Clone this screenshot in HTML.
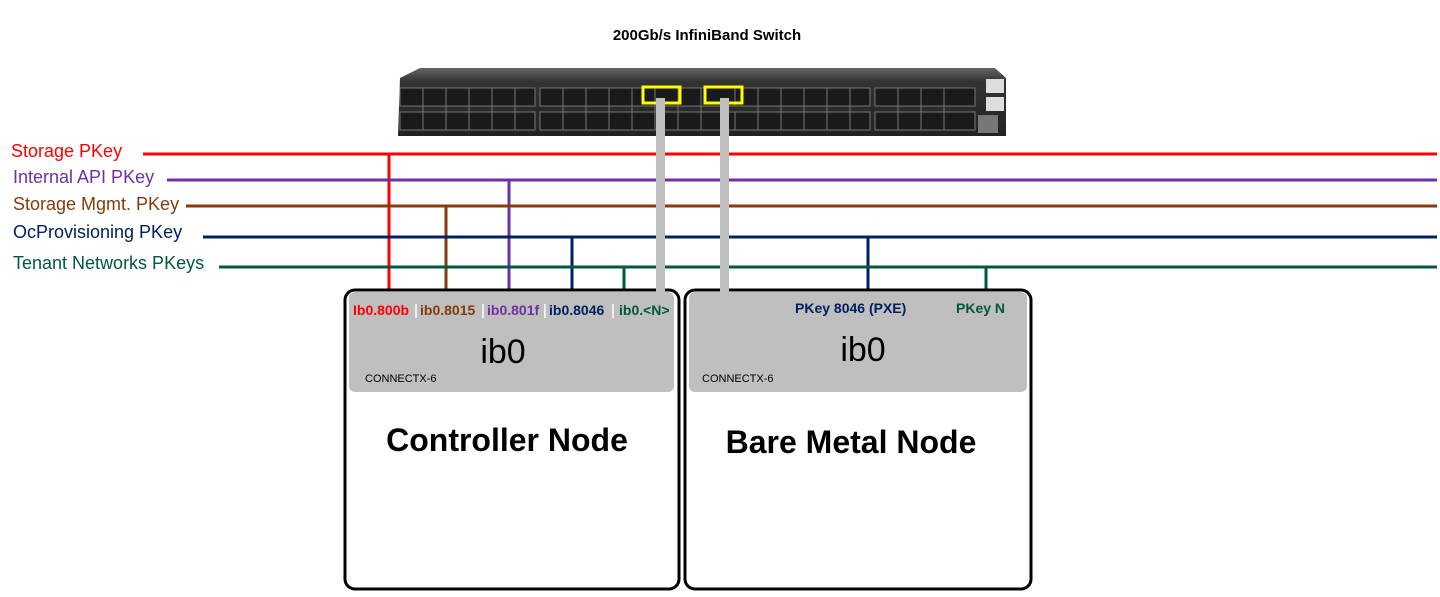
<!DOCTYPE html>
<html><head><meta charset="utf-8"><style>
body{margin:0;width:1440px;height:592px;background:#fff;overflow:hidden;font-family:"Liberation Sans",sans-serif}
</style></head><body>
<svg width="1440" height="592" xmlns="http://www.w3.org/2000/svg" font-family="Liberation Sans, sans-serif">
<text x="707" y="40" font-size="15" font-weight="bold" text-anchor="middle">200Gb/s InfiniBand Switch</text>
<defs><linearGradient id="g" x1="0" y1="0" x2="0" y2="1"><stop offset="0" stop-color="#666"/><stop offset="0.2" stop-color="#333"/><stop offset="1" stop-color="#222"/></linearGradient></defs>
<path d="M400 78 L420 68 L995 68 L1006 78 L1006 136 L398 136 Z" fill="url(#g)"/>
<g fill="#1a1a1a" stroke="#777" stroke-width="1">
<rect x="400" y="88" width="135" height="18"/><rect x="400" y="112" width="135" height="18"/>
<rect x="540" y="88" width="195" height="18"/><rect x="540" y="112" width="195" height="18"/>
<rect x="735" y="88" width="135" height="18"/><rect x="735" y="112" width="135" height="18"/>
<rect x="875" y="88" width="100" height="18"/><rect x="875" y="112" width="100" height="18"/>
</g>
<g stroke="#777" stroke-width="1">
<path d="M423 88v42M446 88v42M469 88v42M492 88v42M515 88v42M563 88v42M586 88v42M609 88v42M632 88v42M655 88v42M678 88v42M701 88v42M758 88v42M781 88v42M804 88v42M827 88v42M850 88v42M898 88v42M921 88v42M944 88v42"/>
</g>
<rect x="986" y="79" width="18" height="14" fill="#ddd"/><rect x="986" y="97" width="18" height="14" fill="#ddd"/>
<rect x="978" y="115" width="20" height="18" fill="#777"/>
<rect x="643" y="87" width="37" height="16" fill="none" stroke="#ffff00" stroke-width="3"/>
<rect x="705" y="87" width="37" height="16" fill="none" stroke="#ffff00" stroke-width="3"/>
<g font-size="18">
<text x="11" y="157" fill="#ff0000">Storage PKey</text>
<text x="13" y="183" fill="#7030a0">Internal API PKey</text>
<text x="13" y="210" fill="#843c0c">Storage Mgmt. PKey</text>
<text x="13" y="238" fill="#002060">OcProvisioning PKey</text>
<text x="13" y="269" fill="#00573f">Tenant Networks PKeys</text>
</g>
<g stroke-width="3" fill="none">
<path d="M143 154H1437M389 154V290" stroke="#ff0000"/>
<path d="M167 180H1437M509 180V290" stroke="#7030a0"/>
<path d="M186 206H1437M446 206V290" stroke="#843c0c"/>
<path d="M203 237H1437M572 237V290M868 237V290" stroke="#002060"/>
<path d="M219 267H1437M624 267V290M986 267V290" stroke="#00573f"/>
</g>
<rect x="656" y="98" width="9" height="194" fill="#bfbfbf"/>
<rect x="720" y="98" width="9" height="194" fill="#bfbfbf"/>
<rect x="345" y="290" width="334" height="299" rx="10" fill="#fff" stroke="#000" stroke-width="3"/>
<rect x="685" y="290" width="346" height="299" rx="10" fill="#fff" stroke="#000" stroke-width="3"/>
<rect x="349" y="292" width="325" height="100" rx="6" fill="#bfbfbf"/>
<rect x="689" y="292" width="338" height="100" rx="6" fill="#bfbfbf"/>
<rect x="656" y="288" width="9" height="5" fill="#bfbfbf"/><rect x="720" y="288" width="9" height="5" fill="#bfbfbf"/>
<g font-size="14" font-weight="bold">
<text x="353" y="315" fill="#ff0000">Ib0.800b</text>
<text x="420" y="315" fill="#843c0c">ib0.8015</text>
<text x="487" y="315" fill="#7030a0">ib0.801f</text>
<text x="549" y="315" fill="#002060">ib0.8046</text>
<text x="619" y="315" fill="#00573f">ib0.&lt;N&gt;</text>
<text x="795" y="313" fill="#002060">PKey 8046 (PXE)</text>
<text x="956" y="313" fill="#00573f">PKey N</text>
</g>
<g stroke="#fff" stroke-width="1.5"><path d="M416 304v14M483 304v14M545 304v14M613 304v14"/></g>
<text x="503" y="363" font-size="34" text-anchor="middle">ib0</text>
<text x="863" y="361" font-size="34" text-anchor="middle">ib0</text>
<text x="365" y="382" font-size="11">CONNECTX-6</text>
<text x="702" y="382" font-size="11">CONNECTX-6</text>
<text x="507" y="451" font-size="32" font-weight="bold" text-anchor="middle">Controller Node</text>
<text x="851" y="453" font-size="32" font-weight="bold" text-anchor="middle">Bare Metal Node</text>
</svg>
</body></html>
